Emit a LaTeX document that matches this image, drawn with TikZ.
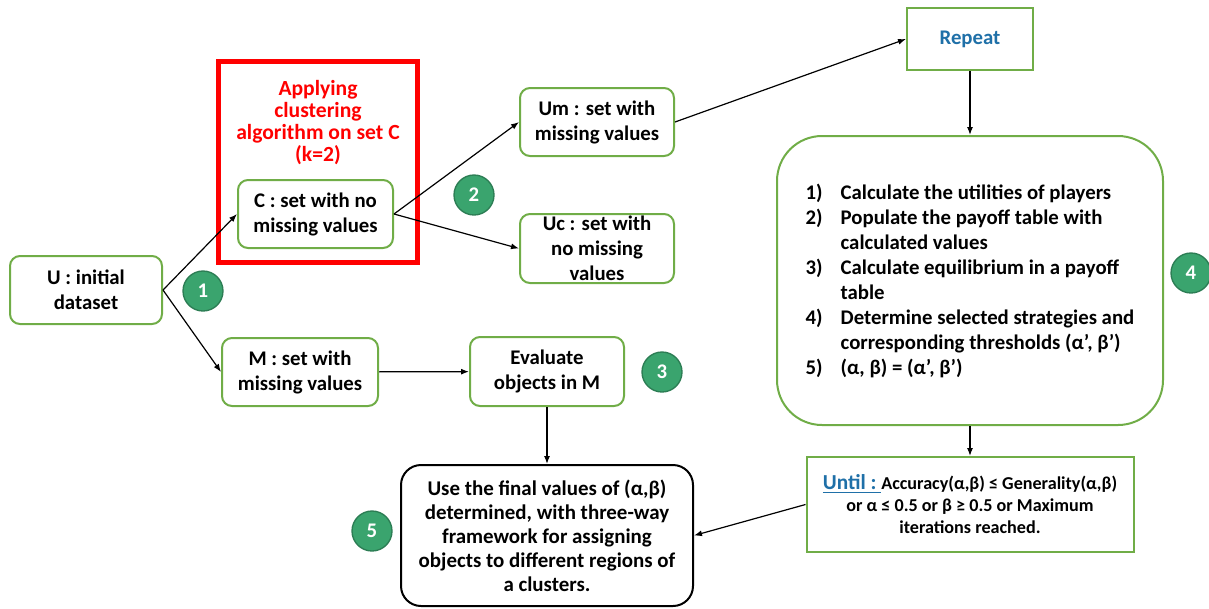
\documentclass[tikz,border=0pt]{standalone}
\usepackage{fontspec}
\setmainfont{Carlito}
\usetikzlibrary{arrows.meta}
\definecolor{boxgreen}{RGB}{112,173,71}
\definecolor{dotgreen}{RGB}{58,164,110}
\definecolor{dotedge}{RGB}{44,125,84}
\definecolor{repblue}{RGB}{31,112,168}
\newcommand{\stepno}[1]{\makebox[26.25pt][l]{#1}}
\tikzset{
  setbox/.style = {draw = boxgreen, line width = 1.5pt, rounded corners = 7.5pt, fill = white,
    align = center, inner sep = 0pt, font = \fontsize{15.6}{18.75}\selectfont\bfseries},
  numdot/.style = {circle, draw = dotedge, line width = 1pt, fill = dotgreen, text = white,
    minimum size = 30pt, inner sep = 0pt, font = \fontsize{15.6}{18}\selectfont\bfseries},
  flow/.style = {line width = 0.9pt, -{Latex[length = 6pt, width = 4.5pt]}}
}
\begin{document}
\begin{tikzpicture}[x = 0.75pt, y = -0.75pt]
  \useasboundingbox (0, 0) rectangle (1209, 608);

  \node[setbox, minimum width = 114pt, minimum height = 51pt] (U) at (86, 290) {U : initial\\dataset};
  \node[draw = red, line width = 3.75pt, minimum width = 149.25pt, minimum height = 150.75pt] (cluster) at (317.5, 161.5) {};
  \node[text = red, align = center, font = \fontsize{16.2}{16.5}\selectfont\bfseries] (clusterlabel) at (318, 123)
    {Applying\\clustering\\algorithm on set C\\(k=2)};
  \node[setbox, minimum width = 116.25pt, minimum height = 51pt] (C) at (315.5, 214) {C : set with no\\missing values};
  \node[setbox, minimum width = 115.5pt, minimum height = 51pt] (Um) at (597, 122) {Um : set with\\missing values};
  \node[setbox, minimum width = 115.5pt, minimum height = 51.75pt] (Uc) at (597, 248.5) {Uc : set with\\no missing\\values};
  \node[setbox, minimum width = 117pt, minimum height = 51pt] (M) at (300, 372) {M : set with\\missing values};
  \node[setbox, minimum width = 115.5pt, minimum height = 51.75pt] (Eval) at (547, 371.5) {Evaluate\\objects in M};
  \node[setbox, rounded corners = 0pt, text = repblue, minimum width = 94.5pt, minimum height = 46.5pt] (Repeat) at (970, 39) {Repeat};
  \node[setbox, rounded corners = 33.75pt, align = left, minimum width = 289.5pt, minimum height = 216.75pt] (Steps) at (970, 280.5)
    {\stepno{1)}Calculate the utilities of players\\
     \stepno{2)}Populate the payoff table with\\
     \stepno{}calculated values\\
     \stepno{3)}Calculate equilibrium in a payoff\\
     \stepno{}table\\
     \stepno{4)}Determine selected strategies and\\
     \stepno{}corresponding thresholds (α’, β’)\\
     \stepno{5)}(α, β) = (α’, β’)};
  \node[setbox, rounded corners = 0pt, minimum width = 245.25pt, minimum height = 71.25pt,
    font = \fontsize{13.6}{16.5}\selectfont\bfseries] (Until) at (970, 504.5)
    {{\color{repblue}\fontsize{16}{16.5}\selectfont\underline{Until :~}}Accuracy(α,β) ≤ Generality(α,β)\\
     or α ≤ 0.5 or β ≥ 0.5 or Maximum\\iterations reached.};
  \node[draw, line width = 1.5pt, rounded corners = 15pt, align = center, inner sep = 0pt,
    minimum width = 219pt, minimum height = 105.75pt, font = \fontsize{15.7}{18}\selectfont\bfseries] (Final) at (547, 535.5)
    {Use the final values of (α,β)\\determined, with three-way\\framework for assigning\\objects to different regions of\\a clusters.};

  \node[numdot] (n1) at (203, 291) {1};
  \node[numdot] (n2) at (474, 195) {2};
  \node[numdot] (n3) at (662, 372) {3};
  \node[numdot] (n4) at (1191, 273) {4};
  \node[numdot] (n5) at (372, 531) {5};

  \draw[flow] (U.east) -- (C.west);
  \draw[flow] (U.east) -- (M.west);
  \draw[flow] (C.east) -- (Um.west);
  \draw[flow] (C.east) -- (Uc.west);
  \draw[flow] (Um.east) -- (Repeat.west);
  \draw[flow] (Repeat) -- (Steps);
  \draw[flow] (Steps) -- (Until);
  \draw[flow] (Until.west) -- (Final.east);
  \draw[flow] (M) -- (Eval);
  \draw[flow] (Eval) -- (Final);
\end{tikzpicture}
\end{document}
